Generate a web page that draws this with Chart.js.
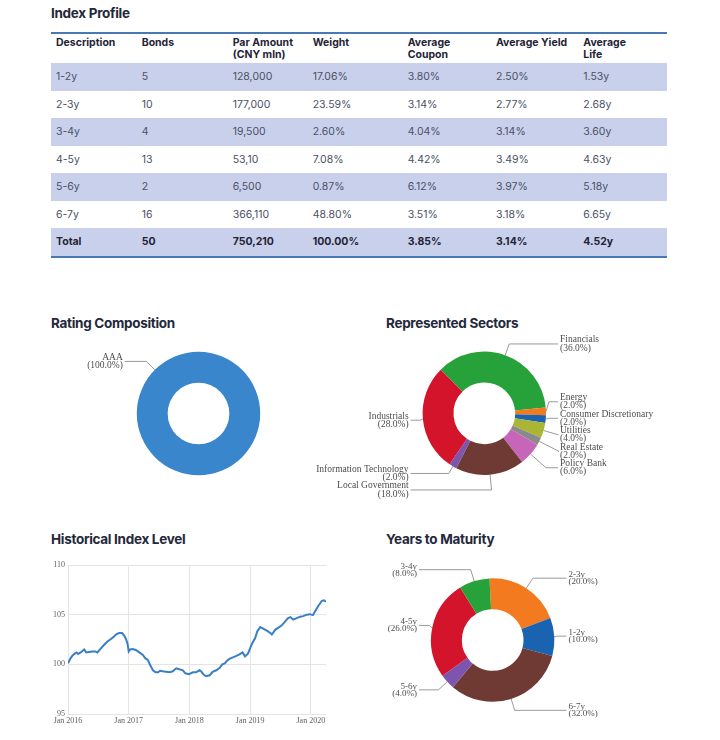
<!DOCTYPE html>
<html>
<head>
<meta charset="utf-8">
<title>Index Profile</title>
<script src="https://cdn.jsdelivr.net/npm/chart.js@4.4.1/dist/chart.umd.min.js"></script>
<style>
    body {
        margin: 0;
        width: 720px;
        height: 740px;
        position: relative;
        overflow: hidden;
        background: #ffffff;
        font-family: Inter, "Noto Sans", sans-serif;
    }
    .section-title {
        position: absolute;
        margin: 0;
        font-size: 13.5px;
        line-height: 16px;
        font-weight: 700;
        letter-spacing: -0.3px;
        color: #23283a;
    }
    #profile-table {
        position: absolute;
        left: 51px;
        top: 32px;
        width: 616px;
        border-collapse: collapse;
        table-layout: fixed;
        border-top: 2px solid #4a78b5;
        border-bottom: 2px solid #4a78b5;
    }
    #profile-table th {
        text-align: left;
        vertical-align: top;
        font-size: 10.5px;
        line-height: 11.5px;
        font-weight: 700;
        color: #1f2436;
        padding: 3px 5px 0 5px;
        height: 26px;
        white-space: pre-line;
    }
    #profile-table td {
        font-size: 10.5px;
        color: #4b5166;
        padding: 0 5px;
        height: 27.5px;
    }
    #profile-table tr.shaded td {
        background: #c9d0eb;
    }
    #profile-table tr.total td {
        font-weight: 700;
        color: #1f2436;
    }
    canvas {
        position: absolute;
    }
</style>
</head>
<body>

<h3 class="section-title" style="left:51px; top:5px;">Index Profile</h3>
<table id="profile-table"><colgroup id="profile-cols"></colgroup><thead></thead><tbody></tbody></table>

<h3 class="section-title" style="left:51px; top:315px;">Rating Composition</h3>
<h3 class="section-title" style="left:386px; top:315px;">Represented Sectors</h3>
<h3 class="section-title" style="left:51px; top:531px;">Historical Index Level</h3>
<h3 class="section-title" style="left:386px; top:531px;">Years to Maturity</h3>

<canvas id="ratingChart" width="300" height="165" style="left:40px; top:335px;"></canvas>
<canvas id="sectorChart" width="410" height="170" style="left:300px; top:335px;"></canvas>
<canvas id="historyChart" width="305" height="180" style="left:30px; top:555px;"></canvas>
<canvas id="maturityChart" width="340" height="180" style="left:360px; top:555px;"></canvas>

<script>
// Index profile table
var tableHeaders = ['Description', 'Bonds', 'Par Amount\n(CNY mln)', 'Weight', 'Average\nCoupon', 'Average Yield', 'Average\nLife'];
var tableColWidths = [85.7, 91, 80, 95, 88.3, 87.3, 88.7];
var bucketLabels = ['1-2y', '2-3y', '3-4y', '4-5y', '5-6y', '6-7y'];
var bucketBonds = ['5', '10', '4', '13', '2', '16'];
var bucketPar = ['128,000', '177,000', '19,500', '53,10', '6,500', '366,110'];
var bucketWeight = ['17.06%', '23.59%', '2.60%', '7.08%', '0.87%', '48.80%'];
var bucketCoupon = ['3.80%', '3.14%', '4.04%', '4.42%', '6.12%', '3.51%'];
var bucketYield = ['2.50%', '2.77%', '3.14%', '3.49%', '3.97%', '3.18%'];
var bucketLife = ['1.53y', '2.68y', '3.60y', '4.63y', '5.18y', '6.65y'];
var totalRow = ['Total', '50', '750,210', '100.00%', '3.85%', '3.14%', '4.52y'];

// Rating composition
var ratingLabels = ['AAA'];
var ratingValues = [100];

// Represented sectors (clockwise drawing order)
var sectorLabels = ['Financials', 'Energy', 'Consumer Discretionary', 'Utilities', 'Real Estate',
                    'Policy Bank', 'Local Government', 'Information Technology', 'Industrials'];
var sectorValues = [36, 2, 2, 4, 2, 6, 18, 2, 28];

// Years to maturity (clockwise drawing order)
var maturityLabels = ['2-3y', '1-2y', '6-7y', '5-6y', '4-5y', '3-4y'];
var maturityValues = [20, 10, 32, 4, 26, 8];

// Historical index level (months since Jan 2016)
var indexMonths = [0, 0.5, 0.9, 1.4, 1.7, 2.0, 2.5, 3.2, 3.6, 4.2, 4.8, 5.4, 5.8, 6.5, 7.2, 7.8, 8.5,
                   9.1, 9.6, 10.1, 10.7, 11.1, 11.5, 11.8, 12.0, 12.3, 12.8, 13.4, 14.1, 14.8, 15.3,
                   15.8, 16.2, 16.8, 17.3, 17.8, 18.2, 18.7, 19.4, 20.1, 20.7, 21.4, 22.0, 22.7, 23.2,
                   23.9, 24.7, 25.3, 26.0, 26.3, 26.8, 27.3, 28.0, 28.6, 29.3, 30.0, 30.5, 31.0, 31.4,
                   31.9, 32.6, 33.3, 33.9, 34.5, 35.0, 35.6, 36.3, 37.0, 37.4, 38.0, 38.6, 39.3, 40.0,
                   40.3, 41.0, 41.6, 42.2, 42.9, 43.5, 44.0, 44.5, 45.2, 45.9, 46.5, 47.2, 47.8, 48.4,
                   48.8, 49.5, 50.2, 50.6, 51.0];
var indexLevels = [100.1, 100.6, 100.9, 101.1, 101.2, 101.05, 101.2, 101.5, 101.2, 101.25, 101.3, 101.3,
                   101.2, 101.6, 102.0, 102.3, 102.55, 102.8, 103.05, 103.15, 103.15, 102.9, 102.5, 102.0,
                   101.3, 101.5, 101.55, 101.45, 101.2, 100.95, 100.6, 100.45, 99.95, 99.4, 99.2, 99.2,
                   99.35, 99.3, 99.25, 99.2, 99.3, 99.6, 99.5, 99.4, 99.1, 99.0, 99.2, 99.2, 99.4, 99.3,
                   98.98, 98.8, 98.9, 99.25, 99.4, 99.65, 100.0, 100.1, 100.35, 100.55, 100.7, 100.85,
                   101.0, 101.2, 100.8, 101.1, 102.0, 102.65, 103.3, 103.75, 103.6, 103.4, 103.15, 103.0,
                   103.5, 103.7, 103.9, 104.3, 104.65, 104.75, 104.5, 104.65, 104.8, 104.85, 105.0,
                   105.05, 104.95, 105.3, 105.9, 106.4, 106.45, 106.3];
var yearTickMonths = [0, 12, 24, 36, 48];
var yearTickLabels = ['Jan 2016', 'Jan 2017', 'Jan 2018', 'Jan 2019', 'Jan 2020'];
var levelTicks = [95, 100, 105, 110];

// Build the table
function buildTable() {
    var table = document.getElementById('profile-table');
    var cols = document.getElementById('profile-cols');
    tableColWidths.forEach(function(w) {
        var col = document.createElement('col');
        col.style.width = w + 'px';
        cols.appendChild(col);
    });

    var headRow = document.createElement('tr');
    tableHeaders.forEach(function(text) {
        var th = document.createElement('th');
        th.textContent = text;
        headRow.appendChild(th);
    });
    table.tHead.appendChild(headRow);

    var body = table.tBodies[0];
    bucketLabels.forEach(function(label, i) {
        var cells = [label, bucketBonds[i], bucketPar[i], bucketWeight[i], bucketCoupon[i], bucketYield[i], bucketLife[i]];
        body.appendChild(makeRow(cells, i % 2 === 0 ? 'shaded' : ''));
    });
    body.appendChild(makeRow(totalRow, 'shaded total'));
}

function makeRow(cells, className) {
    var tr = document.createElement('tr');
    tr.className = className;
    cells.forEach(function(text) {
        var td = document.createElement('td');
        td.textContent = text;
        tr.appendChild(td);
    });
    return tr;
}

// Leader-line labels for the doughnuts
var calloutPlugin = {
    id: 'callouts',
    afterDraw: function(chart, args, opts) {
        var ctx = chart.ctx;
        var meta = chart.getDatasetMeta(0);
        var values = chart.data.datasets[0].data;
        var names = chart.data.labels;
        var total = values.reduce(function(a, b) { return a + b; }, 0);
        var lh = opts.lineHeight;
        var gap = opts.gap;
        var items = [];

        meta.data.forEach(function(arc, i) {
            var p = arc.getProps(['x', 'y', 'startAngle', 'endAngle', 'outerRadius'], true);
            var mid = (p.startAngle + p.endAngle) / 2;
            var cos = Math.cos(mid), sin = Math.sin(mid);
            items.push({
                name: names[i],
                pct: '(' + (values[i] / total * 100).toFixed(1) + '%)',
                cx: p.x, cy: p.y, r: p.outerRadius,
                cos: cos, sin: sin,
                ax: p.x + p.outerRadius * cos,
                ay: p.y + p.outerRadius * sin,
                ly: p.y + (p.outerRadius + 12) * sin,
                side: cos >= 0 ? 1 : -1,
                loose: Math.abs(cos) < 0.15
            });
        });

        // Near-vertical slices go to the emptier side
        var counts = {'1': 0, '-1': 0};
        items.forEach(function(it) { if (!it.loose) counts[it.side]++; });
        items.forEach(function(it) {
            if (it.loose) {
                it.side = counts['1'] <= counts['-1'] ? 1 : -1;
                counts[it.side]++;
            }
        });

        // Spread labels so they do not overlap
        [1, -1].forEach(function(side) {
            var group = items.filter(function(it) { return it.side === side; });
            group.sort(function(a, b) { return a.ly - b.ly; });
            for (var pass = 0; pass < 80; pass++) {
                for (var k = 1; k < group.length; k++) {
                    var d = group[k].ly - group[k - 1].ly;
                    if (d < gap) {
                        var shift = (gap - d) / 2;
                        group[k - 1].ly -= shift;
                        group[k].ly += shift;
                    }
                }
            }
        });

        ctx.save();
        ctx.font = opts.fontSize + 'px "Liberation Serif", serif';
        ctx.textBaseline = 'middle';
        items.forEach(function(it) {
            var t = 3;
            if (Math.abs(it.sin) > 0.2) {
                t = Math.max(0, Math.min((it.ly - it.ay) / it.sin, 22));
            }
            var ex = it.ax + t * it.cos;
            var textX = it.cx + it.side * (it.r + 14);
            var lineEnd = it.cx + it.side * (it.r + 12);

            ctx.strokeStyle = '#808080';
            ctx.lineWidth = 0.8;
            ctx.beginPath();
            ctx.moveTo(it.ax, it.ay);
            ctx.lineTo(ex, it.ly);
            ctx.lineTo(lineEnd, it.ly);
            ctx.stroke();

            ctx.fillStyle = '#4d4d4d';
            ctx.textAlign = it.side === 1 ? 'left' : 'right';
            ctx.fillText(it.name, textX, it.ly - lh / 2);
            ctx.fillText(it.pct, textX, it.ly + lh / 2);
        });
        ctx.restore();
    }
};

// Build a doughnut centred at (cx, cy) in page coordinates
function makeDonut(id, left, top, cx, cy, r, labels, values, colors, rotation, fontSize, lineHeight, gap) {
    var canvas = document.getElementById(id);
    var w = canvas.width, h = canvas.height;
    return new Chart(canvas, {
        type: 'doughnut',
        data: {
            labels: labels,
            datasets: [{
                data: values,
                backgroundColor: colors,
                borderWidth: 0,
                hoverOffset: 0
            }]
        },
        options: {
            responsive: false,
            animation: false,
            events: [],
            cutout: '50%',
            radius: r,
            rotation: rotation,
            layout: {
                padding: {
                    left: cx - left - r,
                    top: cy - top - r,
                    right: left + w - (cx + r),
                    bottom: top + h - (cy + r)
                }
            },
            plugins: {
                legend: { display: false },
                tooltip: { enabled: false },
                callouts: { fontSize: fontSize, lineHeight: lineHeight, gap: gap }
            }
        },
        plugins: [calloutPlugin]
    });
}

function buildHistoryChart() {
    var points = indexMonths.map(function(m, i) {
        return { x: m, y: indexLevels[i] };
    });
    var tickFont = { family: '"Liberation Serif", serif', size: 8 };

    new Chart(document.getElementById('historyChart'), {
        type: 'line',
        data: {
            datasets: [{
                data: points,
                borderColor: '#3a7fc6',
                borderWidth: 2,
                pointRadius: 0,
                tension: 0,
                fill: false
            }]
        },
        options: {
            responsive: false,
            animation: false,
            events: [],
            layout: { padding: { top: 10, right: 9, left: 0, bottom: 0 } },
            plugins: {
                legend: { display: false },
                tooltip: { enabled: false }
            },
            scales: {
                x: {
                    type: 'linear',
                    min: 0,
                    max: 51,
                    afterBuildTicks: function(axis) {
                        axis.ticks = yearTickMonths.map(function(v) { return { value: v }; });
                    },
                    afterFit: function(scale) { scale.height = 21; },
                    ticks: {
                        autoSkip: false,
                        maxRotation: 0,
                        padding: 2,
                        color: '#5e5e5e',
                        font: tickFont,
                        callback: function(value, index) { return yearTickLabels[index]; }
                    },
                    grid: { color: '#e4e4e4', drawTicks: false },
                    border: { display: false }
                },
                y: {
                    min: 95,
                    max: 110,
                    afterBuildTicks: function(axis) {
                        axis.ticks = levelTicks.map(function(v) { return { value: v }; });
                    },
                    afterFit: function(scale) { scale.width = 38; },
                    ticks: {
                        padding: 3,
                        color: '#5e5e5e',
                        font: tickFont
                    },
                    grid: { color: '#e4e4e4', drawTicks: false },
                    border: { display: false }
                }
            }
        }
    });
}

buildTable();

makeDonut('ratingChart', 40, 335, 198.5, 413.5, 61.7, ratingLabels, ratingValues,
          ['#3a86cc'], 135, 9.5, 7.5, 15);

makeDonut('sectorChart', 300, 335, 484.3, 413.3, 61.7, sectorLabels, sectorValues,
          ['#27a23a', '#f47a20', '#1a63b0', '#aab535', '#8a8a8a', '#c766b8', '#6e3a33', '#7d55ae', '#d3142a'],
          -45, 9.5, 8.2, 16.5);

makeDonut('maturityChart', 360, 555, 492.7, 640, 61.7, maturityLabels, maturityValues,
          ['#f47a20', '#1a63b0', '#6e3a33', '#7d55ae', '#d3142a', '#27a23a'],
          -3, 9, 7, 15);

buildHistoryChart();
</script>
</body>
</html>
